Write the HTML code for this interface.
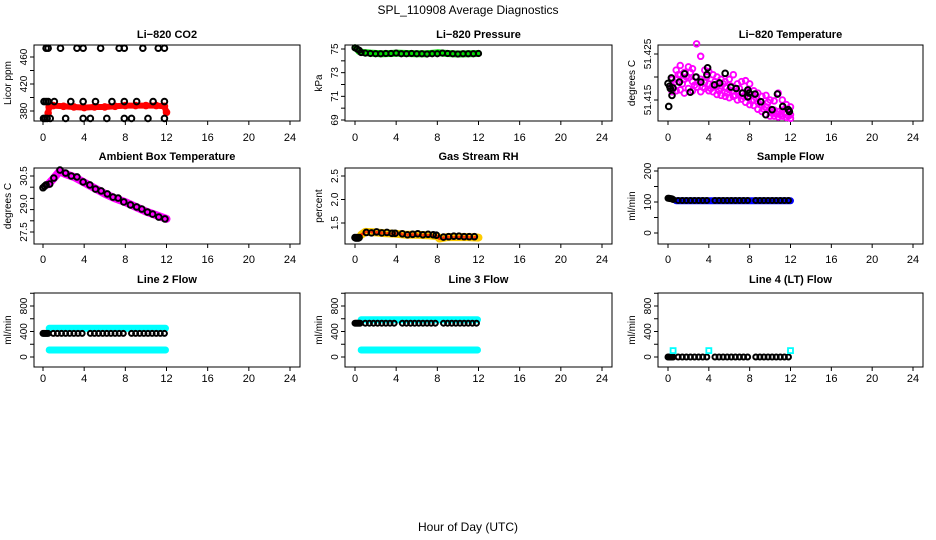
<!DOCTYPE html>
<html><head><meta charset="utf-8">
<style>
html,body{margin:0;padding:0;background:#fff;}
svg{display:block;font-family:"Liberation Sans",Arial,sans-serif;}
</style></head>
<body>
<svg id="chart" width="936" height="540" viewBox="0 0 936 540" xmlns="http://www.w3.org/2000/svg">
<text x="468" y="14" text-anchor="middle" font-size="12">SPL_110908  Average Diagnostics</text>
<text x="468" y="531" text-anchor="middle" font-size="12">Hour of Day (UTC)</text>
</svg>
<script>
// ---------- data ----------
const xTicks = [0,4,8,12,16,20,24];

const co2TopX = [0.3,0.5,1.7,3.3,3.9,5.6,7.4,7.9,9.7,11.2,11.8];
const co2TopY = [473,473,473,473,473,473,473,473,473,473,473];
const co2MidX = [0.1,0.3,0.5,1.1,2.7,3.9,5.1,6.7,7.9,9.1,10.7,11.8];
const co2MidY = [394,394,394,394,394,394,394,394,394,394,394,394];
const co2LowX = [0.05,0.2,0.4,0.7,2.2,3.9,4.6,6.2,7.9,8.6,10.2,11.8];
const co2LowY = [369,369,369,369,369,369,369,369,369,369,369,369];
const co2RedX = [0.5,0.6,1,2,3,4,5,6,7,8,9,10,11,11.8,12];
const co2RedY = [377,386,388,387,386,385,386,386,387,388,388,388,388,387,378];

const presX = [0,0.2,0.4,0.8,1.5,2.5,3.5,4,5,6,7,8,9,10,11,12];
const presY = [75.1,75.0,74.8,74.7,74.65,74.6,74.62,74.65,74.62,74.6,74.6,74.68,74.62,74.58,74.6,74.62];
const presBlackX = [0,0.2,0.4,0.6,1.0,1.5,2.0,2.5,3.0,3.5,4.0,4.5,5.0,5.5,6.0,6.5,7.0,7.5,8.0,8.5,9.0,9.5,10.0,10.5,11.0,11.5,12.0];
const presBlackY = [75.1,75.0,74.9,74.7,74.65,74.62,74.6,74.6,74.62,74.62,74.65,74.6,74.6,74.62,74.6,74.6,74.58,74.6,74.6,74.65,74.62,74.6,74.58,74.6,74.6,74.6,74.62];

const tempBlackX = [0.07,0.0,0.16,0.33,0.23,0.49,0.39,1.11,1.63,2.18,2.74,3.22,3.88,3.81,4.56,5.05,5.6,6.16,6.68,7.3,7.82,7.82,7.95,8.53,9.09,9.58,10.2,10.72,11.24,11.79,11.89];
const tempBlackY = [51.4136,51.4186,51.418,51.4198,51.4175,51.4176,51.416,51.4189,51.4207,51.4167,51.42,51.4189,51.422,51.4205,51.4183,51.4187,51.4208,51.4178,51.4175,51.4165,51.4172,51.4157,51.4165,51.4163,51.4146,51.4118,51.4129,51.4163,51.4136,51.4129,51.4125];
const tempMagX = [0.4,0.8,1.2,1.6,2.0,2.4,2.8,3.2,3.6,4.0,4.4,4.8,5.2,5.6,6.0,6.4,6.8,7.2,7.6,8.0,8.4,8.8,9.2,9.6,10.0,10.4,10.8,11.2,11.6,12.0];
const tempMagHi = [51.4195,51.4215,51.4225,51.4210,51.4222,51.4218,51.4272,51.4245,51.4215,51.4212,51.4205,51.4200,51.4195,51.4190,51.4195,51.4205,51.4185,51.4190,51.4192,51.4185,51.4170,51.4165,51.4158,51.4160,51.4150,51.4148,51.4165,51.4150,51.4140,51.4135];
const tempMagMid = [51.4180,51.4195,51.4205,51.4195,51.4198,51.4190,51.4200,51.4195,51.4188,51.4185,51.4182,51.4180,51.4175,51.4178,51.4172,51.4170,51.4168,51.4165,51.4162,51.4158,51.4150,51.4145,51.4138,51.4135,51.4130,51.4128,51.4125,51.4128,51.4122,51.4118];
const tempMagLo = [51.4168,51.4170,51.4172,51.4165,51.4175,51.4170,51.4178,51.4168,51.4175,51.4170,51.4168,51.4162,51.4160,51.4158,51.4155,51.4158,51.4150,51.4152,51.4145,51.4140,51.4138,51.4130,51.4125,51.4118,51.4115,51.4115,51.4113,51.4115,51.4112,51.4110];
const tempMag2X = [0.6,1.0,1.4,1.8,2.2,2.6,3.0,3.4,3.8,4.2,4.6,5.0,5.4,5.8,6.2,6.6,7.0,7.4,7.8,8.2,8.6,9.0,9.4,9.8,10.2,10.6,11.0,11.4,11.8];
const tempMag2Y = [51.4188,51.4205,51.4185,51.4200,51.4210,51.4182,51.4190,51.4178,51.4200,51.4175,51.4190,51.4170,51.4185,51.4165,51.4180,51.4160,51.4175,51.4158,51.4168,51.4148,51.4155,51.4140,51.4130,51.4145,51.4122,51.4120,51.4118,51.4122,51.4115];

const ambX = [0,0.15,0.3,0.65,1.05,1.65,2.2,2.75,3.3,3.9,4.55,5.1,5.65,6.25,6.8,7.3,7.85,8.5,9.1,9.6,10.15,10.65,11.25,11.85];
const ambY = [29.87,29.95,30.02,30.07,30.39,30.82,30.66,30.5,30.45,30.18,30.02,29.8,29.7,29.54,29.37,29.32,29.11,28.95,28.84,28.73,28.57,28.46,28.3,28.2];
const ambMagX = [0.5,1.0,1.6,2.2,3.0,4.0,5.0,6.0,7.0,8.0,9.0,10.0,11.0,12.0];
const ambMagY = [30.05,30.35,30.75,30.6,30.45,30.15,29.85,29.55,29.3,29.1,28.85,28.6,28.4,28.2];

const rhBandX = [0.6,1.0,2.0,3.0,4.0,5.0,6.0,7.0,8.0,8.2,9.0,10.0,11.0,12.0];
const rhBandY = [1.25,1.31,1.3,1.28,1.27,1.25,1.25,1.24,1.22,1.17,1.2,1.2,1.2,1.19];
const rhBlackX = [0,0.1,0.2,0.3,0.4,1.1,1.6,2.1,2.6,3.1,3.6,3.9,4.6,5.1,5.6,6.1,6.6,7.1,7.6,7.9,8.6,9.1,9.6,10.1,10.6,11.1,11.6];
const rhBlackY = [1.19,1.18,1.19,1.18,1.19,1.3,1.29,1.31,1.29,1.3,1.28,1.28,1.27,1.25,1.26,1.27,1.25,1.26,1.25,1.24,1.2,1.21,1.22,1.22,1.21,1.21,1.21];

const flowX = [0,0.1,0.2,0.3,0.4,0.5,1.0,1.4,1.8,2.2,2.6,3.0,3.4,3.8,4.6,5.0,5.4,5.8,6.2,6.6,7.0,7.4,7.8,8.6,9.0,9.4,9.8,10.2,10.6,11.0,11.4,11.8];
const sampleY = [112,112,111,111,110,108,105,105,105,105,105,105,105,105,105,105,105,105,105,105,105,105,105,105,105,105,105,105,105,105,105,105];
const sampleBandX = [0.8,2,4,6,8,10,12];
const sampleBandY = [104,104,104,104,104,104,104];
const line2Y = [370,370,370,370,370,370,370,370,370,370,370,370,370,370,370,370,370,370,370,370,370,370,370,370,370,370,370,370,370,370,370,370];
const line2HiX = [0.6,4,8,11.9]; const line2HiY = [450,450,450,450];
const line2LoX = [0.6,4,8,11.9]; const line2LoY = [110,110,110,110];
const line3Y = [530,530,530,530,530,530,530,530,530,530,530,530,530,530,530,530,530,530,530,530,530,530,530,530,530,530,530,530,530,530,530,530];
const line3HiX = [0.6,4,8,11.9]; const line3HiY = [585,585,585,585];
const line3LoX = [0.6,4,8,11.9]; const line3LoY = [110,110,110,110];
const line4Y = [0,0,0,0,0,0,0,0,0,0,0,0,0,0,0,0,0,0,0,0,0,0,0,0,0,0,0,0,0,0,0,0];
const line4CyanX = [0.5,4.0,12.0]; const line4CyanY = [100,100,100];

// ---------- layout ----------
const cols = [
  {bx0:34,bx1:300,h0:43,h24:290},
  {bx0:345,bx1:612,h0:355,h24:602},
  {bx0:658,bx1:923,h0:668,h24:913}];
const rows = [
  {by0:45,by1:121,tY:38,xlY:141},
  {by0:168,by1:244,tY:160,xlY:263},
  {by0:293,by1:367,tY:283,xlY:382}];

const svg = document.getElementById('chart');
const NS = 'http://www.w3.org/2000/svg';
function mk(tag, attrs, parent){
  const e = document.createElementNS(NS, tag);
  for (const k in attrs) e.setAttribute(k, attrs[k]);
  (parent||svg).appendChild(e);
  return e;
}

function panel(cfg){
  const c = cols[cfg.col], r = rows[cfg.row];
  const g = mk('g', {});
  
  
  const sx = h => c.h0 + (h/24)*(c.h24-c.h0);
  const sy = v => cfg.p1 + (v-cfg.v1)/(cfg.v2-cfg.v1)*(cfg.p2-cfg.p1);
  const box = mk('rect', {x:c.bx0, y:r.by0, width:c.bx1-c.bx0, height:r.by1-r.by0, fill:'none', stroke:'#000', 'stroke-width':1}, g);
  
  
  const t = mk('text', {x:(c.bx0+c.bx1)/2, y:r.tY, 'text-anchor':'middle', 'font-size':11, 'font-weight':'bold'}, g);
  t.textContent = cfg.title;
  
  
  xTicks.forEach(h => {
    const x = sx(h);
    mk('line', {x1:x, x2:x, y1:r.by1, y2:r.by1+4, stroke:'#000'}, g);
    const l = mk('text', {x:x, y:r.xlY, 'text-anchor':'middle', 'font-size':11}, g);
    l.textContent = h;
    
    
  });
  cfg.yTicks.forEach(v => {
    const y = sy(v);
    mk('line', {x1:c.bx0-4, x2:c.bx0, y1:y, y2:y, stroke:'#000'}, g);
  });
  cfg.yLabels.forEach(v => {
    const y = sy(v), x = c.bx0-7;
    const l = mk('text', {x:x, y:y, 'text-anchor':'middle', 'font-size':10, transform:`rotate(-90 ${x} ${y})`}, g);
    l.textContent = cfg.fmt ? cfg.fmt(v) : v;
    
    
  });
  const yt = c.bx0-23, ym = (r.by0+r.by1)/2;
  const ytl = mk('text', {x:yt, y:ym, 'text-anchor':'middle', 'font-size':10, transform:`rotate(-90 ${yt} ${ym})`}, g);
  ytl.textContent = cfg.ylab;
  
  
  return {g, sx, sy};
}

function band(P, xs, ys, color, w, name){
  const pts = xs.map((h,i)=>P.sx(h).toFixed(1)+','+P.sy(ys[i]).toFixed(1)).join(' ');
  const e = mk('polyline', {points:pts, fill:'none', stroke:color, 'stroke-width':w, 'stroke-linecap':'round', 'stroke-linejoin':'round'}, P.g);
  
  
  return e;
}
function pts(P, xs, ys, color, name, r, sw, shape){
  xs.forEach((h,i)=>{
    let e;
    if (shape === 'square'){
      e = mk('rect', {x:P.sx(h)-2.5, y:P.sy(ys[i])-2.5, width:5, height:5, fill:'none', stroke:color, 'stroke-width':sw||1.8}, P.g);
    } else {
      e = mk('circle', {cx:P.sx(h), cy:P.sy(ys[i]), r:r||2.8, fill:'none', stroke:color, 'stroke-width':sw||2}, P.g);
    }
    
    
  });
}

let P = panel({name:'co2', col:0,row:0,title:'Li\u2212820 CO2', ylab:'Licor ppm', v1:380,p1:111,v2:460,p2:57, yTicks:[380,400,420,440,460], yLabels:[380,420,460]});
band(P, co2RedX, co2RedY, '#ff0000', 6, 'co2-red-series');
pts(P, co2RedX, co2RedY, '#ff0000', 'co2-red-point');
pts(P, co2TopX, co2TopY, '#000', 'co2-point-high');
pts(P, co2MidX, co2MidY, '#000', 'co2-point-mid');
pts(P, co2LowX, co2LowY, '#000', 'co2-point-low');

P = panel({name:'pressure', col:1,row:0,title:'Li\u2212820 Pressure', ylab:'kPa', v1:75,p1:49,v2:69,p2:120, yTicks:[69,70,71,72,73,74,75], yLabels:[69,71,73,75]});
band(P, presX, presY, '#00dd00', 7, 'pressure-green-series');
pts(P, presBlackX, presBlackY, '#000', 'pressure-point', 2.6, 2);

P = panel({name:'li820-temp', col:2,row:0,title:'Li\u2212820 Temperature', ylab:'degrees C', v1:51.425,p1:54,v2:51.415,p2:100, yTicks:[51.415,51.42,51.425], yLabels:[51.415,51.425], fmt:v=>v.toFixed(3)});
pts(P, tempMagX, tempMagHi, '#ff00ff', 'temp-magenta-point', 2.8, 1.9);
pts(P, tempMagX, tempMagMid, '#ff00ff', 'temp-magenta-point', 2.8, 1.9);
pts(P, tempMagX, tempMagLo, '#ff00ff', 'temp-magenta-point', 2.8, 1.9);
pts(P, tempMag2X, tempMag2Y, '#ff00ff', 'temp-magenta-point', 2.8, 1.9);
pts(P, tempBlackX, tempBlackY, '#000', 'temp-black-point');

P = panel({name:'ambient-temp', col:0,row:1,title:'Ambient Box Temperature', ylab:'degrees C', v1:30.5,p1:176,v2:27.5,p2:232, yTicks:[27.5,28.1,28.7,29.3,29.9,30.5], yLabels:[27.5,29.0,30.5], fmt:v=>v.toFixed(1)});
band(P, ambMagX, ambMagY, '#ff00ff', 8, 'ambient-magenta-series');
pts(P, ambX, ambY, '#000', 'ambient-point');

P = panel({name:'rh', col:1,row:1,title:'Gas Stream RH', ylab:'percent', v1:2.5,p1:176,v2:1.5,p2:223, yTicks:[1.5,2.0,2.5], yLabels:[1.5,2.0,2.5], fmt:v=>v.toFixed(1)});
band(P, rhBandX, rhBandY, '#ffcc00', 8, 'rh-yellow-series');
const rd = band(P, rhBandX, rhBandY, '#ff3300', 3, 'rh-red-series'); rd.setAttribute('stroke-dasharray','1 3');
pts(P, rhBlackX, rhBlackY, '#000', 'rh-point');

P = panel({name:'sample-flow', col:2,row:1,title:'Sample Flow', ylab:'ml/min', v1:0,p1:233,v2:200,p2:171, yTicks:[0,50,100,150,200], yLabels:[0,100,200]});
band(P, sampleBandX, sampleBandY, '#0000ff', 7, 'sample-flow-blue-series');
pts(P, flowX, sampleY, '#000', 'sample-flow-point', 2.5);

P = panel({name:'line2-flow', col:0,row:2,title:'Line 2 Flow', ylab:'ml/min', v1:0,p1:357,v2:800,p2:306, yTicks:[0,200,400,600,800,1000], yLabels:[0,400,800]});
band(P, line2HiX, line2HiY, '#00ffff', 7, 'line2-cyan-high');
band(P, line2LoX, line2LoY, '#00ffff', 7, 'line2-cyan-low');
pts(P, flowX, line2Y, '#000', 'line2-point', 2.5);

P = panel({name:'line3-flow', col:1,row:2,title:'Line 3 Flow', ylab:'ml/min', v1:0,p1:357,v2:800,p2:306, yTicks:[0,200,400,600,800,1000], yLabels:[0,400,800]});
band(P, line3HiX, line3HiY, '#00ffff', 7, 'line3-cyan-high');
band(P, line3LoX, line3LoY, '#00ffff', 7, 'line3-cyan-low');
pts(P, flowX, line3Y, '#000', 'line3-point', 2.5);

P = panel({name:'line4-flow', col:2,row:2,title:'Line 4 (LT) Flow', ylab:'ml/min', v1:0,p1:357,v2:800,p2:306, yTicks:[0,200,400,600,800,1000], yLabels:[0,400,800]});
pts(P, flowX, line4Y, '#000', 'line4-point', 2.5, 2);
pts(P, line4CyanX, line4CyanY, '#00ffff', 'line4-cyan-point', 0, 1.8, 'square');
</script>
</body></html>
